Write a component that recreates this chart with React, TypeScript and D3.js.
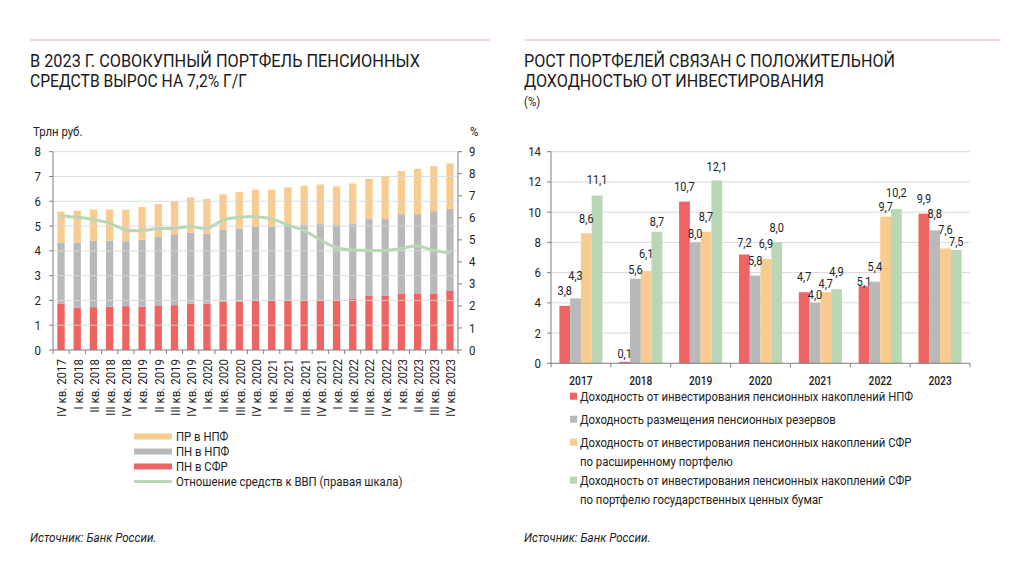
import React from "react";
import * as d3 from "d3";

// ---------- Left chart data ----------
const quarters = [
  "IV кв. 2017", "I кв. 2018", "II кв. 2018", "III кв. 2018", "IV кв. 2018",
  "I кв. 2019", "II кв. 2019", "III кв. 2019", "IV кв. 2019",
  "I кв. 2020", "II кв. 2020", "III кв. 2020", "IV кв. 2020",
  "I кв. 2021", "II кв. 2021", "III кв. 2021", "IV кв. 2021",
  "I кв. 2022", "II кв. 2022", "III кв. 2022", "IV кв. 2022",
  "I кв. 2023", "II кв. 2023", "III кв. 2023", "IV кв. 2023",
];
const pnSfr = [1.88, 1.71, 1.73, 1.75, 1.77, 1.75, 1.8, 1.81, 1.87, 1.87, 1.94, 1.95, 1.98, 1.98, 2.0, 2.02, 2.03, 2.04, 2.08, 2.19, 2.19, 2.28, 2.28, 2.28, 2.38];
const pnNpf = [2.46, 2.63, 2.68, 2.66, 2.62, 2.7, 2.76, 2.83, 2.86, 2.82, 2.9, 2.94, 2.98, 2.98, 3.04, 3.05, 3.05, 3.0, 3.0, 3.09, 3.09, 3.2, 3.2, 3.32, 3.31];
const prNpf = [1.24, 1.28, 1.26, 1.26, 1.27, 1.32, 1.33, 1.37, 1.43, 1.41, 1.44, 1.48, 1.51, 1.51, 1.52, 1.56, 1.6, 1.56, 1.64, 1.63, 1.74, 1.74, 1.83, 1.82, 1.84];
const gdpRatio = [6.08, 6.02, 5.92, 5.75, 5.45, 5.42, 5.51, 5.52, 5.6, 5.52, 5.9, 6.02, 6.05, 5.95, 5.67, 5.42, 4.99, 4.64, 4.54, 4.52, 4.52, 4.61, 4.72, 4.52, 4.4];
const leftTicks = [0, 1, 2, 3, 4, 5, 6, 7, 8];
const rightTicks = [0, 1, 2, 3, 4, 5, 6, 7, 8, 9];
const leftLegend = ["ПР в НПФ", "ПН в НПФ", "ПН в СФР", "Отношение средств к ВВП (правая шкала)"];

// ---------- Right chart data ----------
const years = ["2017", "2018", "2019", "2020", "2021", "2022", "2023"];
const yieldNpf = [3.8, 0.1, 10.7, 7.2, 4.7, 5.1, 9.9];
const yieldReserves = [4.3, 5.6, 8.0, 5.8, 4.0, 5.4, 8.8];
const yieldSfrExt = [8.6, 6.1, 8.7, 6.9, 4.7, 9.7, 7.6];
const yieldSfrGov = [11.1, 8.7, 12.1, 8.0, 4.9, 10.2, 7.5];
const yieldTicks = [0, 2, 4, 6, 8, 10, 12, 14];
const rightLegend = [
  ["Доходность от инвестирования пенсионных накоплений НПФ"],
  ["Доходность размещения пенсионных резервов"],
  ["Доходность от инвестирования пенсионных накоплений СФР", "по расширенному портфелю"],
  ["Доходность от инвестирования пенсионных накоплений СФР", "по портфелю государственных ценных бумаг"],
];
// label gap above bar top (px), as placed in the reference
const labelGapNpf = [11, 4, 11, 7.7, 11.7, 0.7, 11];
const labelGapRes = [18, 4.3, 4.7, 10.7, 4, 11, 12];
const labelGapExt = [10, 13, 11, 11.3, 4, 5.3, 14.7];
const labelGapGov = [11.7, 6, 9.7, 10.7, 13, 11.7, 4.3];

const RED = "#ee6462";
const GRAY = "#b9b9bb";
const ORANGE = "#f8cc90";
const GREEN = "#b9d7b5";
const GRID = "#d9d9d9";
const AXIS = "#7f7f7f";
const FONT = "Roboto, 'Noto Sans', sans-serif";
const TXT = "#222";

// text with horizontal narrowing (the reference font is condensed)
function T({ x, y, sx = 0.91, rotate = 0, size = 12.5, anchor = "start", weight = 400, italic = false, dy, children }: any) {
  return (
    <text
      transform={`translate(${x},${y}) rotate(${rotate}) scale(${sx},1)`}
      textAnchor={anchor}
      dy={dy}
      fontFamily={FONT}
      fontSize={size}
      fontWeight={weight}
      fontStyle={italic ? "italic" : "normal"}
      fill={TXT}
    >
      {children}
    </text>
  );
}

function LeftChart() {
  const x0 = 53, x1 = 458, yTop = 151.7, yBot = 350;
  const x = d3.scaleBand<string>().domain(quarters).range([x0, x1]).paddingInner(0.55).paddingOuter(0.27);
  const y = d3.scaleLinear().domain([0, 8]).range([yBot, yTop]);
  const y2 = d3.scaleLinear().domain([0, 9]).range([yBot, yTop]);
  const rows = quarters.map((q, i) => ({ q, sfr: pnSfr[i], npf: pnNpf[i], pr: prNpf[i] }));
  const stack = d3.stack<any>().keys(["sfr", "npf", "pr"])(rows);
  const colors = [RED, GRAY, ORANGE];
  const line = d3.line<number>()
    .x((_, i) => (x(quarters[i]) as number) + x.bandwidth() / 2)
    .y((v) => y2(v))
    .curve(d3.curveCatmullRom.alpha(0.5));
  const step = (x1 - x0) / quarters.length;
  return (
    <g>
      <line x1={30} x2={490} y1={40} y2={40} stroke="#f4a3ab" strokeWidth={1} />
      <text x={30} y={67} fontFamily={FONT} fontSize={17.5} fill="#1a1a1a" textLength={390} lengthAdjust="spacingAndGlyphs">В 2023 Г. СОВОКУПНЫЙ ПОРТФЕЛЬ ПЕНСИОННЫХ</text>
      <text x={30} y={86.5} fontFamily={FONT} fontSize={17.5} fill="#1a1a1a" textLength={217} lengthAdjust="spacingAndGlyphs">СРЕДСТВ ВЫРОС НА 7,2% Г/Г</text>
      <T x={33} y={136}>Трлн руб.</T>
      <T x={470} y={136}>%</T>
      {stack.map((layer, li) =>
        layer.map((d, i) => (
          <rect key={`${li}-${i}`} x={x(quarters[i])} width={x.bandwidth()} y={y(d[1])} height={y(d[0]) - y(d[1])} fill={colors[li]} />
        ))
      )}
      {leftTicks.filter((t) => t > 0).map((t) => (
        <line key={t} x1={x0} x2={x1} y1={y(t)} y2={y(t)} stroke={GRID} strokeWidth={1} opacity={0.85} />
      ))}
      <path d={line(gdpRatio) || ""} fill="none" stroke={GREEN} strokeWidth={3} strokeLinecap="round" />
      <line x1={x0} x2={x0} y1={yTop} y2={yBot} stroke={AXIS} />
      <line x1={x1} x2={x1} y1={yTop} y2={yBot} stroke={AXIS} />
      <line x1={x0} x2={x1} y1={yBot} y2={yBot} stroke={AXIS} />
      {leftTicks.map((t) => (
        <g key={t}>
          <line x1={x0 - 4} x2={x0} y1={y(t)} y2={y(t)} stroke={AXIS} />
          <T x={41} y={y(t)} dy="0.35em" anchor="end" size={13} sx={0.88}>{t}</T>
        </g>
      ))}
      {rightTicks.map((t) => (
        <g key={t}>
          <line x1={x1} x2={x1 + 4} y1={y2(t)} y2={y2(t)} stroke={AXIS} />
          <T x={469} y={y2(t)} dy="0.35em" size={13} sx={0.88}>{t}</T>
        </g>
      ))}
      {d3.range(quarters.length + 1).map((i) => (
        <line key={i} x1={x0 + i * step} x2={x0 + i * step} y1={yBot} y2={yBot + 4} stroke={AXIS} />
      ))}
      {quarters.map((q) => {
        const cx = (x(q) as number) + x.bandwidth() / 2;
        return (
          <T key={q} x={cx + 1} y={yBot + 9} rotate={-90} dy="0.35em" anchor="end" size={12.5} sx={0.92}>{q}</T>
        );
      })}
      {leftLegend.map((label, i) => (
        <g key={label}>
          <line x1={134} x2={172} y1={436.5 + i * 15} y2={436.5 + i * 15} stroke={[ORANGE, GRAY, RED, GREEN][i]} strokeWidth={i === 3 ? 3 : 6} />
          <T x={176} y={436.5 + i * 15} dy="0.35em">{label}</T>
        </g>
      ))}
      <T x={30} y={542} italic sx={0.93}>Источник: Банк России.</T>
    </g>
  );
}

function RightChart() {
  const x0 = 551, x1 = 970, yTop = 151.7, yBot = 363.3;
  const x = d3.scaleBand<string>().domain(years).range([x0, x1]).paddingInner(0.28).paddingOuter(0.14);
  const keys = ["npf", "res", "ext", "gov"];
  const xi = d3.scaleBand<string>().domain(keys).range([0, x.bandwidth()]);
  const y = d3.scaleLinear().domain([0, 14]).range([yBot, yTop]);
  const series = [yieldNpf, yieldReserves, yieldSfrExt, yieldSfrGov];
  const gaps = [labelGapNpf, labelGapRes, labelGapExt, labelGapGov];
  const colors = [RED, GRAY, ORANGE, GREEN];
  const fmt = (v: number) => v.toFixed(1).replace(".", ",");
  const step = (x1 - x0) / years.length;
  let ly = 396.7;
  const legendY: number[] = [];
  rightLegend.forEach((lines) => { legendY.push(ly); ly += lines.length === 1 ? 23 : 38; });
  return (
    <g>
      <line x1={525} x2={1000} y1={40} y2={40} stroke="#f4a3ab" strokeWidth={1} />
      <text x={524} y={67} fontFamily={FONT} fontSize={17.5} fill="#1a1a1a" textLength={371} lengthAdjust="spacingAndGlyphs">РОСТ ПОРТФЕЛЕЙ СВЯЗАН С ПОЛОЖИТЕЛЬНОЙ</text>
      <text x={524} y={86.5} fontFamily={FONT} fontSize={17.5} fill="#1a1a1a" textLength={300} lengthAdjust="spacingAndGlyphs">ДОХОДНОСТЬЮ ОТ ИНВЕСТИРОВАНИЯ</text>
      <T x={524} y={106}>(%)</T>
      {yieldTicks.filter((t) => t > 0).map((t) => (
        <line key={t} x1={x0} x2={x1} y1={y(t)} y2={y(t)} stroke={GRID} strokeWidth={1} />
      ))}
      {series.map((vals, si) =>
        vals.map((v, i) => (
          <rect key={`${si}-${i}`} x={(x(years[i]) as number) + (xi(keys[si]) as number)} width={xi.bandwidth()} y={y(v)} height={yBot - y(v)} fill={colors[si]} />
        ))
      )}
      {series.map((vals, si) =>
        vals.map((v, i) => (
          <T key={`l${si}-${i}`} x={(x(years[i]) as number) + (xi(keys[si]) as number) + xi.bandwidth() / 2} y={y(v) - gaps[si][i]} anchor="middle" size={13} sx={0.84}>{fmt(v)}</T>
        ))
      )}
      <line x1={x0} x2={x0} y1={yTop} y2={yBot} stroke={AXIS} />
      <line x1={x0} x2={x1} y1={yBot} y2={yBot} stroke={AXIS} />
      {yieldTicks.map((t) => (
        <g key={t}>
          <line x1={x0 - 4} x2={x0} y1={y(t)} y2={y(t)} stroke={AXIS} />
          <T x={541} y={y(t)} dy="0.35em" anchor="end" size={13} sx={0.88}>{t}</T>
        </g>
      ))}
      {d3.range(years.length + 1).map((i) => (
        <line key={i} x1={x0 + i * step} x2={x0 + i * step} y1={yBot} y2={yBot + 4} stroke={AXIS} />
      ))}
      {years.map((yr) => (
        <T key={yr} x={(x(yr) as number) + x.bandwidth() / 2} y={385} anchor="middle" size={12.5} weight={500} sx={0.82}>{yr}</T>
      ))}
      {rightLegend.map((lines, i) => (
        <g key={i}>
          <rect x={570} y={legendY[i] - 4} width={7} height={7} fill={colors[i]} />
          {lines.map((t, j) => (
            <T key={j} x={580} y={legendY[i] + j * 18.5} dy="0.35em">{t}</T>
          ))}
        </g>
      ))}
      <T x={524} y={542} italic sx={0.93}>Источник: Банк России.</T>
    </g>
  );
}

export default function App() {
  return (
    <svg width={1024} height={571} style={{ position: "absolute", left: 0, top: 0, background: "#fff" }}>
      <rect width={1024} height={571} fill="#fff" />
      <LeftChart />
      <RightChart />
    </svg>
  );
}
